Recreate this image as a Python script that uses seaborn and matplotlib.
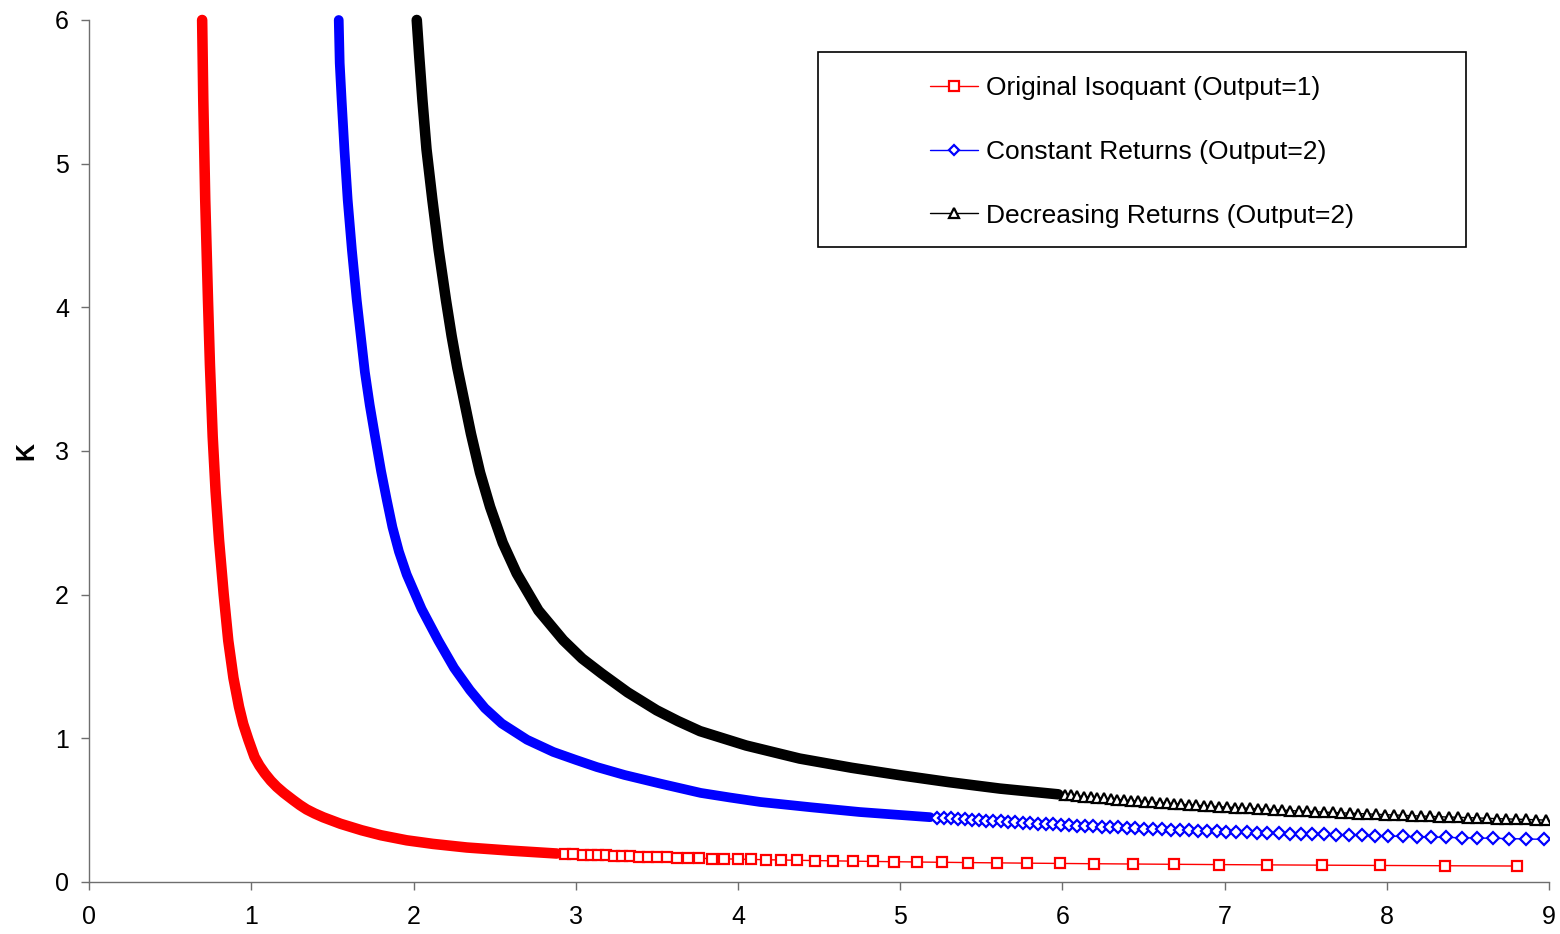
import matplotlib
matplotlib.use("Agg")
import matplotlib.pyplot as plt
from matplotlib.lines import Line2D
from matplotlib.patches import Rectangle
import pandas as pd
import seaborn as sns

# ---- data: labour (L) and capital (K) combinations on each isoquant ----
# Original isoquant, output = 1 (densely sampled part of the curve)
red_L_curve = [0.697, 0.704, 0.716, 0.733, 0.745, 0.762, 0.780, 0.801, 0.830, 0.858,
               0.890, 0.924, 0.950, 0.982, 1.020, 1.050, 1.084, 1.120, 1.157, 1.200,
               1.259, 1.300, 1.341, 1.390, 1.444, 1.550, 1.680, 1.800, 1.958, 2.120,
               2.328, 2.600, 2.883]
red_K_curve = [6.00, 5.44, 4.75, 4.05, 3.60, 3.10, 2.72, 2.38, 2.00, 1.68,
               1.42, 1.22, 1.10, 0.99, 0.87, 0.81, 0.755, 0.705, 0.662, 0.620,
               0.569, 0.535, 0.505, 0.477, 0.450, 0.405, 0.360, 0.325, 0.290, 0.265,
               0.240, 0.218, 0.198]
# individual points along the flat tail
red_L_marks = [2.934, 2.985, 3.043, 3.092, 3.139, 3.187, 3.236, 3.285, 3.335, 3.390,
               3.444, 3.503, 3.565, 3.626, 3.694, 3.762, 3.838, 3.914, 3.999, 4.081,
               4.171, 4.264, 4.366, 4.475, 4.588, 4.708, 4.831, 4.964, 5.106, 5.258,
               5.420, 5.596, 5.782, 5.986, 6.195, 6.436, 6.689, 6.966, 7.262, 7.601,
               7.958, 8.359, 8.803]
red_K_marks = [0.195, 0.193, 0.191, 0.189, 0.187, 0.185, 0.183, 0.181, 0.179, 0.177,
               0.175, 0.173, 0.171, 0.169, 0.167, 0.165, 0.163, 0.161, 0.159, 0.157,
               0.155, 0.153, 0.151, 0.149, 0.147, 0.145, 0.143, 0.141, 0.139, 0.137,
               0.135, 0.133, 0.131, 0.129, 0.127, 0.125, 0.123, 0.121, 0.119, 0.117,
               0.115, 0.113, 0.111]

# Constant returns to scale, output = 2
blue_L_curve = [1.539, 1.545, 1.557, 1.574, 1.594, 1.620, 1.650, 1.675, 1.700, 1.730,
                1.763, 1.800, 1.835, 1.870, 1.910, 1.958, 2.050, 2.153, 2.250, 2.348,
                2.440, 2.544, 2.700, 2.862, 3.000, 3.130, 3.300, 3.520, 3.770, 3.950,
                4.136, 4.450, 4.750, 5.184]
blue_K_curve = [6.00, 5.70, 5.44, 5.10, 4.75, 4.40, 4.05, 3.80, 3.55, 3.32,
                3.10, 2.86, 2.66, 2.47, 2.30, 2.14, 1.90, 1.68, 1.49, 1.335,
                1.21, 1.103, 0.99, 0.905, 0.850, 0.800, 0.745, 0.685, 0.620, 0.588,
                0.557, 0.520, 0.487, 0.451]
blue_L_marks = [5.227, 5.270, 5.313, 5.356, 5.400, 5.443, 5.486, 5.529, 5.573, 5.622,
                5.665, 5.708, 5.758, 5.801, 5.850, 5.900, 5.943, 5.992, 6.041, 6.091,
                6.140, 6.189, 6.244, 6.294, 6.343, 6.399, 6.448, 6.504, 6.559, 6.615,
                6.671, 6.726, 6.781, 6.837, 6.892, 6.950, 7.010, 7.072, 7.136, 7.200,
                7.264, 7.333, 7.400, 7.470, 7.541, 7.614, 7.689, 7.767, 7.846, 7.928,
                8.010, 8.097, 8.183, 8.274, 8.367, 8.462, 8.557, 8.654, 8.754, 8.860,
                8.969]
blue_K_marks = [0.448, 0.445, 0.442, 0.439, 0.436, 0.433, 0.430, 0.427, 0.424, 0.421,
                0.418, 0.415, 0.412, 0.409, 0.406, 0.403, 0.401, 0.398, 0.395, 0.393,
                0.390, 0.388, 0.385, 0.382, 0.380, 0.377, 0.374, 0.372, 0.369, 0.367,
                0.364, 0.362, 0.360, 0.357, 0.355, 0.353, 0.351, 0.348, 0.346, 0.344,
                0.342, 0.339, 0.337, 0.335, 0.333, 0.331, 0.329, 0.327, 0.324, 0.322,
                0.320, 0.317, 0.315, 0.313, 0.310, 0.308, 0.306, 0.304, 0.302, 0.299,
                0.297]

# Decreasing returns to scale, output = 2
black_L_curve = [2.020, 2.035, 2.055, 2.080, 2.116, 2.155, 2.200, 2.235, 2.270, 2.354,
                 2.410, 2.472, 2.550, 2.636, 2.770, 2.923, 3.040, 3.160, 3.320, 3.499,
                 3.630, 3.766, 4.050, 4.380, 4.700, 5.000, 5.300, 5.615, 5.975]
black_K_curve = [6.00, 5.75, 5.44, 5.10, 4.75, 4.40, 4.05, 3.80, 3.58, 3.12,
                 2.85, 2.611, 2.36, 2.148, 1.89, 1.683, 1.555, 1.451, 1.32, 1.195,
                 1.12, 1.050, 0.950, 0.859, 0.795, 0.743, 0.695, 0.650, 0.610]
black_L_marks = [6.014, 6.054, 6.093, 6.133, 6.174, 6.215, 6.256, 6.297, 6.339, 6.382,
                 6.424, 6.467, 6.510, 6.554, 6.599, 6.643, 6.688, 6.733, 6.779, 6.825,
                 6.871, 6.918, 6.966, 7.013, 7.061, 7.109, 7.158, 7.207, 7.256, 7.306,
                 7.356, 7.406, 7.457, 7.509, 7.560, 7.612, 7.665, 7.718, 7.771, 7.824,
                 7.878, 7.933, 7.988, 8.042, 8.098, 8.154, 8.210, 8.267, 8.324, 8.382,
                 8.440, 8.498, 8.557, 8.616, 8.676, 8.736, 8.796, 8.857, 8.918, 8.980]
black_K_marks = [0.606, 0.602, 0.598, 0.594, 0.590, 0.586, 0.582, 0.578, 0.574, 0.570,
                 0.566, 0.563, 0.559, 0.555, 0.551, 0.548, 0.544, 0.541, 0.537, 0.534,
                 0.530, 0.527, 0.524, 0.521, 0.518, 0.515, 0.512, 0.509, 0.506, 0.503,
                 0.500, 0.497, 0.494, 0.491, 0.489, 0.486, 0.484, 0.481, 0.479, 0.476,
                 0.474, 0.471, 0.469, 0.466, 0.464, 0.461, 0.459, 0.457, 0.454, 0.452,
                 0.450, 0.448, 0.446, 0.443, 0.441, 0.439, 0.437, 0.435, 0.433, 0.431]

series_names = ["Original Isoquant (Output=1)",
                "Constant Returns (Output=2)",
                "Decreasing Returns (Output=2)"]
x_ticks = [0, 1, 2, 3, 4, 5, 6, 7, 8, 9]
y_ticks = [0, 1, 2, 3, 4, 5, 6]
y_label = "K"

# ---- styling ----
sns.set_theme(style="white")
plt.rcParams["font.family"] = ["Liberation Sans", "DejaVu Sans"]
plt.rcParams["text.color"] = "black"
plt.rcParams["axes.labelcolor"] = "black"

styles = [
    dict(color="#ff0000", marker="s", ms=7.0, band=7.6),
    dict(color="#0000ff", marker="D", ms=6.0, band=7.0),
    dict(color="#000000", marker="^", ms=7.2, band=7.6),
]
series = [
    (red_L_curve, red_K_curve, red_L_marks, red_K_marks),
    (blue_L_curve, blue_K_curve, blue_L_marks, blue_K_marks),
    (black_L_curve, black_K_curve, black_L_marks, black_K_marks),
]

fig = plt.figure(figsize=(15.6, 9.34), dpi=100)
ax = fig.add_axes([0.0571, 0.0557, 0.9359, 0.9229])

for (Lc, Kc, Lm, Km), st in zip(series, styles):
    full = pd.DataFrame({"L": Lc + Lm, "K": Kc + Km})
    dense = pd.DataFrame({"L": Lc, "K": Kc})
    tail = pd.DataFrame({"L": Lm, "K": Km})
    # thin connecting line through every point
    sns.lineplot(data=full, x="L", y="K", estimator=None, color=st["color"],
                 lw=1.0, ax=ax, zorder=2)
    # densely packed markers read as a solid band
    sns.lineplot(data=dense, x="L", y="K", estimator=None, color=st["color"],
                 lw=st["band"], solid_capstyle="round", solid_joinstyle="round",
                 ax=ax, zorder=3, clip_on=False)
    # open markers where points are spread apart
    sns.lineplot(data=tail, x="L", y="K", estimator=None, color=st["color"],
                 linestyle="", marker=st["marker"], markersize=st["ms"],
                 markerfacecolor="white", markeredgecolor=st["color"],
                 markeredgewidth=1.6, ax=ax, zorder=4)

ax.set_xlim(0, 9)
ax.set_ylim(0, 6)
ax.set_xticks(x_ticks)
ax.set_yticks(y_ticks)
ax.set_xticklabels([str(v) for v in x_ticks])
ax.set_yticklabels([str(v) for v in y_ticks])
ax.set_xlabel("")
ax.set_ylabel(y_label, fontsize=18, fontweight="bold", labelpad=12)

for side in ("top", "right"):
    ax.spines[side].set_visible(False)
for side in ("left", "bottom"):
    ax.spines[side].set_color("#6e6e6e")
    ax.spines[side].set_linewidth(1.0)
ax.tick_params(axis="both", direction="out", length=5.5, width=1.0,
               color="#6e6e6e", labelsize=18, labelcolor="black")
ax.tick_params(axis="x", bottom=True, pad=11)
ax.tick_params(axis="y", left=True, pad=9)

# legend with a rectangular frame
frame = Rectangle((0.4993, 0.7367), 0.4439, 0.2262, transform=ax.transAxes,
                  facecolor="white", edgecolor="black", lw=1.2, zorder=5)
ax.add_patch(frame)
handles = [Line2D([], [], color=st["color"], lw=1.0, marker=st["marker"],
                  markersize=st["ms"] - 0.5, markerfacecolor="white",
                  markeredgecolor=st["color"], markeredgewidth=1.6)
           for st in styles]
leg = ax.legend(handles, series_names, loc="center",
                bbox_to_anchor=(0.7212, 0.8469), frameon=False, fontsize=19,
                handlelength=1.8, handletextpad=0.3, labelspacing=1.5)
leg.set_zorder(6)
for txt in leg.get_texts():
    txt.set_color("black")

fig.savefig("out.png", dpi=100)
